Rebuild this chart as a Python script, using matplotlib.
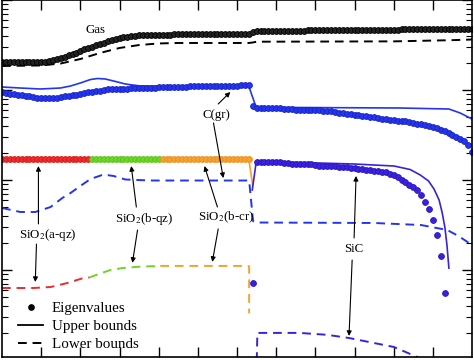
import numpy as np
import matplotlib
matplotlib.use('Agg')
import matplotlib.pyplot as plt
from matplotlib.lines import Line2D

plt.rcParams['font.family'] = 'serif'
plt.rcParams['font.serif'] = ['Liberation Serif', 'DejaVu Serif']
plt.rcParams['mathtext.fontset'] = 'stix'

# ---- eigenvalues (markers), grid step 10 ----
gas_x = np.arange(0, 1210, 10)
gas_eig = [2050, 2050, 2050, 2050, 2050, 2050, 2050, 2050, 2050, 2050, 2050,
           2070, 2100, 2150, 2210, 2270, 2330, 2420, 2510, 2610, 2710,
           2820, 2930, 3040, 3160, 3250, 3370, 3500, 3590, 3690, 3780,
           3880, 3930, 3980, 4030, 4080,
           4100, 4100, 4110, 4110, 4120, 4120, 4130, 4130, 4140, 4140,
           4150, 4150, 4150, 4160, 4160, 4160, 4170, 4170, 4170, 4180,
           4180, 4180, 4190, 4190, 4190, 4190, 4190, 4190,
           4360, 4520,
           4530, 4530, 4540, 4540, 4550, 4550, 4560, 4560, 4570, 4570,
           4580, 4580, 4590, 4590, 4600, 4600, 4610, 4610, 4620, 4620,
           4630, 4630, 4640, 4640, 4650, 4650, 4660, 4660, 4670, 4670,
           4680, 4680, 4690, 4690, 4700, 4700, 4710, 4710, 4720, 4720,
           4730, 4730, 4740, 4740, 4750, 4750, 4760, 4760, 4760, 4760,
           4760, 4760, 4760, 4760, 4760]

cgr_x = np.arange(0, 1210, 10)
cgr_eig = [950, 926, 914, 903, 891, 869, 858, 847, 836, 825,
           815, 815, 815, 825, 825, 836, 847, 858, 880, 891,
           903, 926, 950, 962, 975, 987, 1000, 1013, 1013, 1026,
           1026, 1039, 1039, 1052, 1052, 1052,
           1066, 1066, 1066, 1066, 1070, 1070, 1075, 1075, 1080, 1080,
           1090, 1090, 1094, 1094, 1100, 1100, 1104, 1104, 1108, 1108,
           1112, 1112, 1118, 1118, 1122, 1125, 1130, 1136,
           664, 631,
           631, 631, 631, 623, 623, 623, 615, 615, 615, 607,
           607, 600, 600, 600, 592, 592, 585, 585,
           577, 570, 562, 555, 548, 541, 528, 521, 514, 508,
           501, 495, 489, 482, 476, 470, 464, 458, 452, 447,
           441, 430, 424, 414, 408, 398, 388, 378, 364, 350,
           333, 316, 301, 285, 268, 242, 205]

aqz_x = np.arange(0, 230, 10)
aqz_eig = [171, 171, 171, 171, 171, 171, 171, 171, 171, 171, 171, 171,
           171, 171, 171, 171, 171, 171, 171, 171, 171, 171, 171]
bqz_x = np.arange(230, 410, 10)
bqz_eig = [171, 171, 171, 171, 171, 171, 171, 171, 171,
           171, 171, 171, 171, 171, 171, 171, 171, 171]
bcr_x = np.arange(410, 640, 10)
bcr_eig = [171, 171, 171, 171, 171, 171, 171, 171, 171, 171, 171, 171,
           171, 171, 171, 171, 171, 171, 171, 171, 171, 171, 171]

sic_x = np.arange(640, 1140, 10)
sic_eig = [7.17, 158.5,
           158.5, 158.5, 158.5, 156.5, 156.5, 156.5, 154.5, 154.5, 152.5, 152.5,
           150.6, 150.6, 148.7, 148.7, 146.8, 144.9, 144.9, 143.0, 143.0, 141.3,
           139.4, 139.4, 137.7, 135.9, 135.9, 134.2, 132.5, 130.8, 129.2, 127.5,
           125.9, 122.7, 121.2, 118.1, 115.1, 108.0, 100.0, 95.0, 88.0, 83.6,
           77.4, 68.1, 56.9, 47.6, 35.9, 24.5, 14.3, 5.55]

# ---- bounds (lines) ----
gas_low_x = [0, 100, 150, 200, 250, 300, 350, 400, 450, 630, 640, 650, 1000, 1150, 1200]
gas_low = [1848, 1874, 1970, 2210, 2577, 2930, 3160, 3290, 3330, 3330, 3370, 3440, 3470, 3580, 3640]

cgr_up_x = [0, 47, 98, 149, 175, 200, 226, 244, 264, 290, 315, 353, 455, 629, 649, 761, 1016, 1141, 1170, 1200]
cgr_up = [1080, 1052, 1026, 1052, 1108, 1196, 1308, 1342, 1325, 1243, 1166, 1108, 1094, 1137,
          639, 639, 631, 615, 555, 476]
cgr_low_x = [0, 47, 85, 124, 154, 175, 200, 226, 259, 285, 315, 379, 631, 641, 649, 950, 1070, 1137, 1165, 1200]
cgr_low = [48.9, 44.1, 44.1, 50.1, 63.1, 71.7, 85.8, 102.6, 115, 110.8, 101.3, 98.7, 98.7,
           35.0, 33.7, 33.3, 31.6, 27.8, 23.9, 19.0]

aqz_low_x = [0, 80, 124, 167, 208, 223]
aqz_low = [6.31, 6.31, 6.47, 7.17, 8.15, 8.25]
bqz_low_x = [223, 251, 277, 307, 353, 404]
bqz_low = [8.25, 9.15, 10.0, 10.5, 10.9, 11.1]
bcr_low_x = [404, 624, 631, 631]
bcr_low = [11.1, 11.1, 11.0, 3.3]
bcr_up_x = [620, 630, 640]
bcr_up = [171, 171, 88]

sic_up_x = [639, 649, 761, 899, 1001, 1042, 1068, 1089, 1103, 1116, 1124, 1131, 1136, 1141]
sic_up = [77.4, 158.5, 156.5, 150.6, 143.0, 130.8, 113.6, 97.5, 79.4, 60.0, 43.0, 29.3, 19.0, 10.5]
sic_low_x = [650, 652, 760, 830, 886, 1001, 1060, 1100]
sic_low = [0.8, 2.0, 2.0, 1.905, 1.756, 1.394, 1.08, 0.89]

c_gas = 'black'
c_cgr = '#2335ee'
c_sic = '#3a22dd'
c_aqz = '#ee2a2a'
c_bqz = '#6cd626'
c_bcr = '#f7a02c'
dash = (0, (4.5, 3))

fig = plt.figure(figsize=(4.74, 3.6), dpi=100)
ax = fig.add_axes([2 / 474, 3 / 360, 470 / 474, 357 / 360])
ax.set_yscale('log')

# lines
ax.plot(gas_low_x, gas_low, color=c_gas, lw=1.4, ls=dash)
ax.plot(cgr_up_x, cgr_up, color=c_cgr, lw=1.2)
ax.plot(cgr_low_x, cgr_low, color=c_cgr, lw=1.4, ls=dash)
ax.plot(aqz_low_x, aqz_low, color=c_aqz, lw=1.4, ls=dash)
ax.plot(bqz_low_x, bqz_low, color=c_bqz, lw=1.4, ls=dash)
ax.plot(bcr_low_x, bcr_low, color=c_bcr, lw=1.4, ls=dash)
ax.plot(bcr_up_x, bcr_up, color=c_bcr, lw=1.2)
ax.plot(sic_up_x, sic_up, color=c_sic, lw=1.2)
ax.plot(sic_low_x, sic_low, color=c_sic, lw=1.4, ls=dash)

# eigenvalue markers
mk = dict(ls='none', marker='o', ms=4.2, mew=0.6)
ax.plot(gas_x, gas_eig, color=c_gas, mfc='#222222', mec='black', **mk)
ax.plot(cgr_x, cgr_eig, color=c_cgr, mfc=c_cgr, mec='#1a22c0', **mk)
ax.plot(aqz_x, aqz_eig, color=c_aqz, mfc=c_aqz, mec='#d81818', **mk)
ax.plot(bqz_x, bqz_eig, color=c_bqz, mfc=c_bqz, mec='#58c018', **mk)
ax.plot(bcr_x, bcr_eig, color=c_bcr, mfc=c_bcr, mec='#e89020', **mk)
ax.plot(sic_x, sic_eig, color=c_sic, mfc=c_sic, mec='#2a16c0', **mk)

ax.set_xlim(0, 1200)
ax.set_ylim(1.08, 1e4)
ax.set_xticks(np.arange(100, 1200, 100))
ax.tick_params(which='both', direction='in', top=True, right=True,
               labelbottom=False, labelleft=False)
ax.tick_params(which='major', length=7, width=1.0)
ax.tick_params(which='minor', length=4, width=0.8)
ax.xaxis.set_minor_locator(matplotlib.ticker.NullLocator())
for s in ax.spines.values():
    s.set_linewidth(1.2)

fs = 9.3
ax.text(238, 4640, 'Gas', ha='center', va='center', fontsize=fs)
ax.text(547, 528, 'C(gr)', ha='center', va='center', fontsize=fs)
ax.text(116, 24.5, 'SiO$_2$(a-qz)', ha='center', va='center', fontsize=fs)
ax.text(364, 36.9, 'SiO$_2$(b-qz)', ha='center', va='center', fontsize=fs)
ax.text(573, 38.8, 'SiO$_2$(b-cr)', ha='center', va='center', fontsize=fs)
ax.text(899, 17.1, 'SiC', ha='center', va='center', fontsize=fs)

arrows = [((552, 699), (583, 950)), ((540, 430), (565, 105)),
          ((93, 32.5), (93, 143)), ((88, 19.4), (85, 7.36)),
          ((343, 50.1), (330, 143)), ((346, 27.8), (333, 12.0)),
          ((550, 50.1), (517, 143)), ((552, 28.6), (537, 12.3)),
          ((899, 22.7), (904, 111)), ((894, 12.9), (886, 1.85))]
for start, end in arrows:
    ax.annotate('', xy=end, xytext=start,
                arrowprops=dict(arrowstyle='-|>', color='black', lw=0.8,
                                mutation_scale=7, shrinkA=0, shrinkB=0))

handles = [Line2D([], [], ls='none', marker='o', color='black', ms=3.8),
           Line2D([], [], color='black', lw=1.3),
           Line2D([], [], color='black', lw=1.4, ls=dash)]
ax.legend(handles, ['Eigenvalues', 'Upper bounds', 'Lower bounds'],
          loc='lower left', bbox_to_anchor=(0.005, -0.022), frameon=False,
          fontsize=10.8, handlelength=1.7, handletextpad=0.55, labelspacing=0.32)

fig.savefig('out.png', dpi=100)
